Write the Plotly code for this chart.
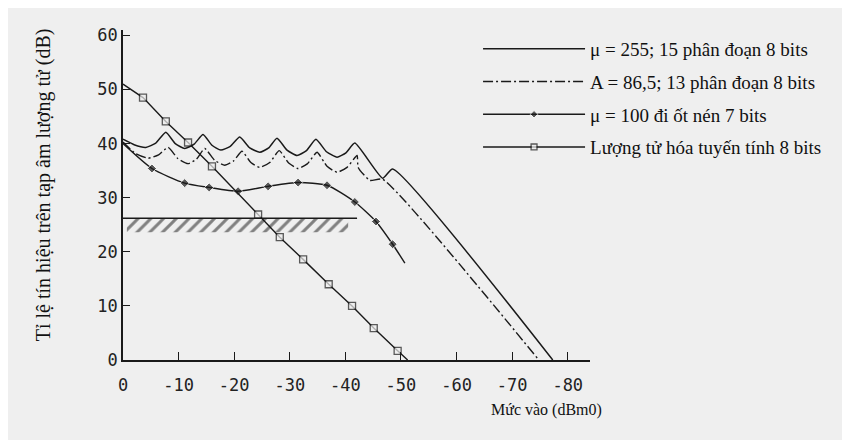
import plotly.graph_objects as go

# ---- data ----
mu255_x = [0, -2.0, -4.1, -5.9, -7.7, -9.4, -11.1, -12.8, -14.4, -16.0, -17.6, -19.3, -21.0,
           -22.8, -24.6, -26.2, -27.7, -29.5, -31.3, -33.0, -34.7, -36.6, -38.5, -40.1, -41.7,
           -46.7, -48.5, -77.3]
mu255_y = [40.8, 39.8, 39.3, 40.1, 42.1, 40.0, 39.1, 39.9, 41.7, 39.7, 38.8, 39.5, 41.2,
           39.2, 38.4, 39.2, 41.0, 38.8, 37.8, 38.7, 40.8, 38.5, 37.5, 38.3, 40.1,
           33.6, 35.3, 0]

alaw_x = [0, -2.2, -4.5, -6.4, -8.1, -9.9, -11.7, -13.2, -14.7, -16.5, -18.3, -19.9, -21.4,
          -23.0, -24.6, -26.4, -28.1, -29.8, -31.5, -33.2, -34.9, -36.7, -38.5, -40.3, -42.1,
          -42.3, -44.4, -46.7, -74.8]
alaw_y = [40.3, 38.2, 37.3, 37.9, 39.3, 37.2, 36.3, 37.1, 39.1, 36.9, 36.0, 36.8, 38.6,
          36.5, 35.6, 36.5, 38.7, 36.4, 35.4, 36.3, 38.4, 35.8, 34.7, 35.6, 37.8,
          35.6, 33.2, 33.4, 0]

mu100_x = [0, -5.2, -11.1, -15.5, -20.7, -26.1, -31.5, -36.7, -41.7, -45.5, -48.5, -50.7]
mu100_y = [40.0, 35.4, 32.7, 31.9, 31.2, 32.1, 32.8, 32.3, 29.2, 25.6, 21.4, 17.9]
mu100_marked = [False, True, True, True, True, True, True, True, True, True, True, False]

lin_x = [0, -3.6, -7.7, -11.7, -16.0, -24.3, -28.2, -32.4, -37.0, -41.2, -45.1, -49.4, -51.2]
lin_y = [51.0, 48.5, 44.1, 40.2, 35.8, 26.9, 22.7, 18.6, 14.0, 10.0, 5.9, 1.7, 0]
lin_marked = [False, True, True, True, True, True, True, True, True, True, True, True, False]

threshold_y = 26.2
threshold_x = [0, -42.1]
hatch_x = [-0.7, -40.5]
hatch_bottom = 23.6

x_ticks = [0, -10, -20, -30, -40, -50, -60, -70, -80]
y_ticks = [0, 10, 20, 30, 40, 50, 60]

names = ["μ = 255; 15 phân đoạn 8 bits",
         "A = 86,5; 13 phân đoạn 8 bits",
         "μ = 100 đi ốt nén 7 bits",
         "Lượng tử hóa tuyến tính 8 bits"]

BG = "#efefef"
INK = "#1a1a1a"

fig = go.Figure()

# hatched region below the threshold line
fig.add_trace(go.Scatter(
    x=[hatch_x[0], hatch_x[1], hatch_x[1], hatch_x[0], hatch_x[0]],
    y=[threshold_y, threshold_y, hatch_bottom, hatch_bottom, threshold_y],
    fill="toself", mode="lines", line=dict(width=0),
    fillcolor="rgba(0,0,0,0)",
    fillpattern=dict(shape="/", size=9, solidity=0.33, fgcolor="#111",
                     bgcolor="rgba(0,0,0,0)", fillmode="overlay"),
    showlegend=False, hoverinfo="skip"))
fig.add_trace(go.Scatter(x=threshold_x, y=[threshold_y, threshold_y], mode="lines",
                         line=dict(color=INK, width=1.5), showlegend=False, hoverinfo="skip"))

fig.add_trace(go.Scatter(x=mu255_x, y=mu255_y, mode="lines", name=names[0],
                         legendgroup="a", line=dict(color=INK, width=1.5, shape="spline", smoothing=0.5)))
fig.add_trace(go.Scatter(x=alaw_x, y=alaw_y, mode="lines", name=names[1],
                         legendgroup="b",
                         line=dict(color=INK, width=1.4, dash="10px,3px,2px,3px", shape="spline", smoothing=0.5)))

fig.add_trace(go.Scatter(x=mu100_x, y=mu100_y, mode="lines+markers", name=names[2],
                         legendgroup="c",
                         line=dict(color=INK, width=1.4, shape="spline", smoothing=0.6),
                         marker=dict(symbol="diamond", color=INK,
                                     size=[7 if m else 0 for m in mu100_marked])))
fig.add_trace(go.Scatter(x=lin_x, y=lin_y, mode="lines+markers", name=names[3],
                         legendgroup="d",
                         line=dict(color=INK, width=1.4),
                         marker=dict(symbol="square", color=BG,
                                     size=[7 if m else 0 for m in lin_marked],
                                     line=dict(color=INK, width=1.3))))

tick_font = dict(family="DejaVu Sans Mono", size=17, color="#222")
serif = "Liberation Serif"

fig.update_layout(
    width=850, height=440,
    paper_bgcolor=BG, plot_bgcolor=BG,
    margin=dict(l=115, r=268, t=22, b=88, autoexpand=False),
    showlegend=True,
    legend=dict(xref="container", yref="container", x=0.553, y=0.95,
                xanchor="left", yanchor="top",
                font=dict(family=serif, size=19, color="#111"),
                bgcolor="rgba(0,0,0,0)", itemwidth=102, tracegroupgap=5,
                itemclick=False),
    xaxis=dict(range=[0, -84], tickvals=x_ticks, ticktext=[str(v) for v in x_ticks],
               showgrid=False, zeroline=False, showline=True, linecolor=INK, linewidth=1.6,
               ticks="inside", ticklen=8, tickwidth=1.4, tickcolor=INK,
               tickfont=tick_font, ticklabelstandoff=9),
    yaxis=dict(range=[0, 61], tickvals=y_ticks, ticktext=[str(v) for v in y_ticks],
               showgrid=False, zeroline=False, showline=True, linecolor=INK, linewidth=1.6,
               ticks="inside", ticklen=7, tickwidth=1.4, tickcolor=INK,
               tickfont=tick_font, ticklabelstandoff=0),
    annotations=[
        dict(text="Tỉ lệ tín hiệu trên tạp âm lượng tử (dB)", textangle=-90,
             xref="paper", yref="paper", x=-0.171, y=0.53, xanchor="center", yanchor="middle",
             showarrow=False, font=dict(family=serif, size=20, color="#111")),
        dict(text="Mức vào (dBm0)", xref="paper", yref="paper", x=1.03, y=-0.152,
             xanchor="right", yanchor="middle", showarrow=False,
             font=dict(family=serif, size=16, color="#111")),
    ],
)

fig.write_html("out.html")
